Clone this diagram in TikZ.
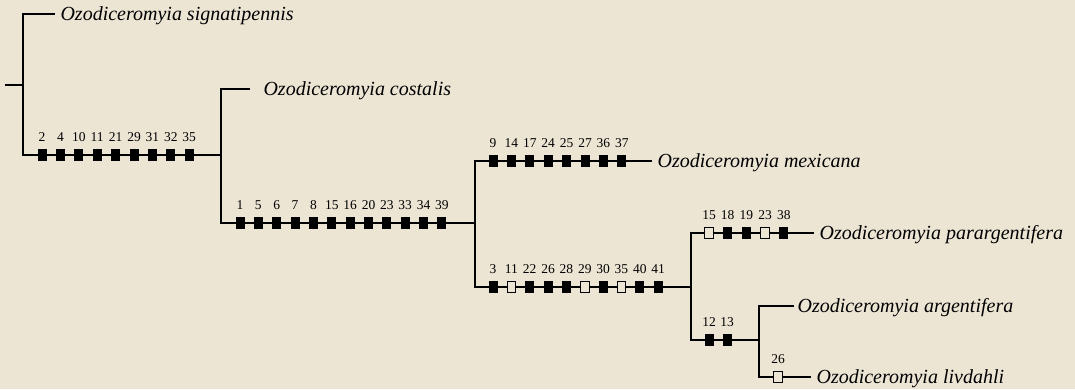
\documentclass[tikz,border=0pt]{standalone}
\usepackage{fontspec}
\setmainfont{Liberation Serif}
\definecolor{paper}{RGB}{236,229,212}
\tikzset{
  leaf/.style={anchor=west, inner ysep=0pt, inner xsep=5pt, text height=13pt, text depth=0pt, font=\fontsize{20}{24}\selectfont\itshape},
  lbl/.style={inner sep=1.5pt, font=\fontsize{13.5}{15}\selectfont},
  mkf/.style={rectangle, fill=black, minimum width=9pt, minimum height=11.5pt, inner sep=0pt},
  mko/.style={rectangle, draw=black, fill=paper, line width=1pt, minimum width=8.5pt, minimum height=11pt, inner sep=0pt},
}
\begin{document}
\begin{tikzpicture}[x=1pt, y=-1pt, line width=1.1pt, label distance=5.5pt]
\fill[paper] (0,0) rectangle (1075,389);
\useasboundingbox (0,0) rectangle (1075,389);
% species
\node[leaf] (sig) at (55,14) {Ozodiceromyia signatipennis};
\node[leaf, inner xsep=13pt] (cos) at (250,89) {Ozodiceromyia costalis};
\node[leaf] (mex) at (652,161) {Ozodiceromyia mexicana};
\node[leaf] (par) at (814,233) {Ozodiceromyia parargentifera};
\node[leaf, inner xsep=3pt] (arg) at (794,306) {Ozodiceromyia argentifera};
\node[leaf] (liv) at (811,377) {Ozodiceromyia livdahli};
% branching points
\coordinate (base) at (5,85);
\coordinate (j1) at (23,85);
\coordinate (j2) at (221,155);
\coordinate (j3) at (475,223);
\coordinate (j4) at (691,287);
\coordinate (j5) at (759,340);
\draw (base) -- (j1);
\draw (sig.west) -| (j1) |- (j2);
\draw (cos.west) -| (j2) |- (j3);
\draw (mex.west) -| (j3) |- (j4);
\draw (par.west) -| (j4) |- (j5);
\draw (arg.west) -| (j5) |- (liv.west);
% character changes
\foreach \n/\s [count=\i from 0] in {2/f,4/f,10/f,11/f,21/f,29/f,31/f,32/f,35/f}
  \node[mk\s, label={[lbl]above:\n}] (a\n) at ({42+18.4*\i},155) {};
\foreach \n/\s [count=\i from 0] in {1/f,5/f,6/f,7/f,8/f,15/f,16/f,20/f,23/f,33/f,34/f,39/f}
  \node[mk\s, label={[lbl]above:\n}] (b\n) at ({240+18.36*\i},223) {};
\foreach \n/\s [count=\i from 0] in {9/f,14/f,17/f,24/f,25/f,27/f,36/f,37/f}
  \node[mk\s, label={[lbl]above:\n}] (c\n) at ({493+18.4*\i},161) {};
\foreach \n/\s [count=\i from 0] in {3/f,11/o,22/f,26/f,28/f,29/o,30/f,35/o,40/f,41/f}
  \node[mk\s, label={[lbl]above:\n}] (d\n) at ({493+18.35*\i},287) {};
\foreach \n/\s [count=\i from 0] in {15/o,18/f,19/f,23/o,38/f}
  \node[mk\s, label={[lbl]above:\n}] (e\n) at ({709+18.7*\i},233) {};
\foreach \n/\s [count=\i from 0] in {12/f,13/f}
  \node[mk\s, label={[lbl]above:\n}] (f\n) at ({709+18.2*\i},340) {};
\node[mko, label={[lbl]above:26}] (g26) at (778,377) {};
\end{tikzpicture}
\end{document}
